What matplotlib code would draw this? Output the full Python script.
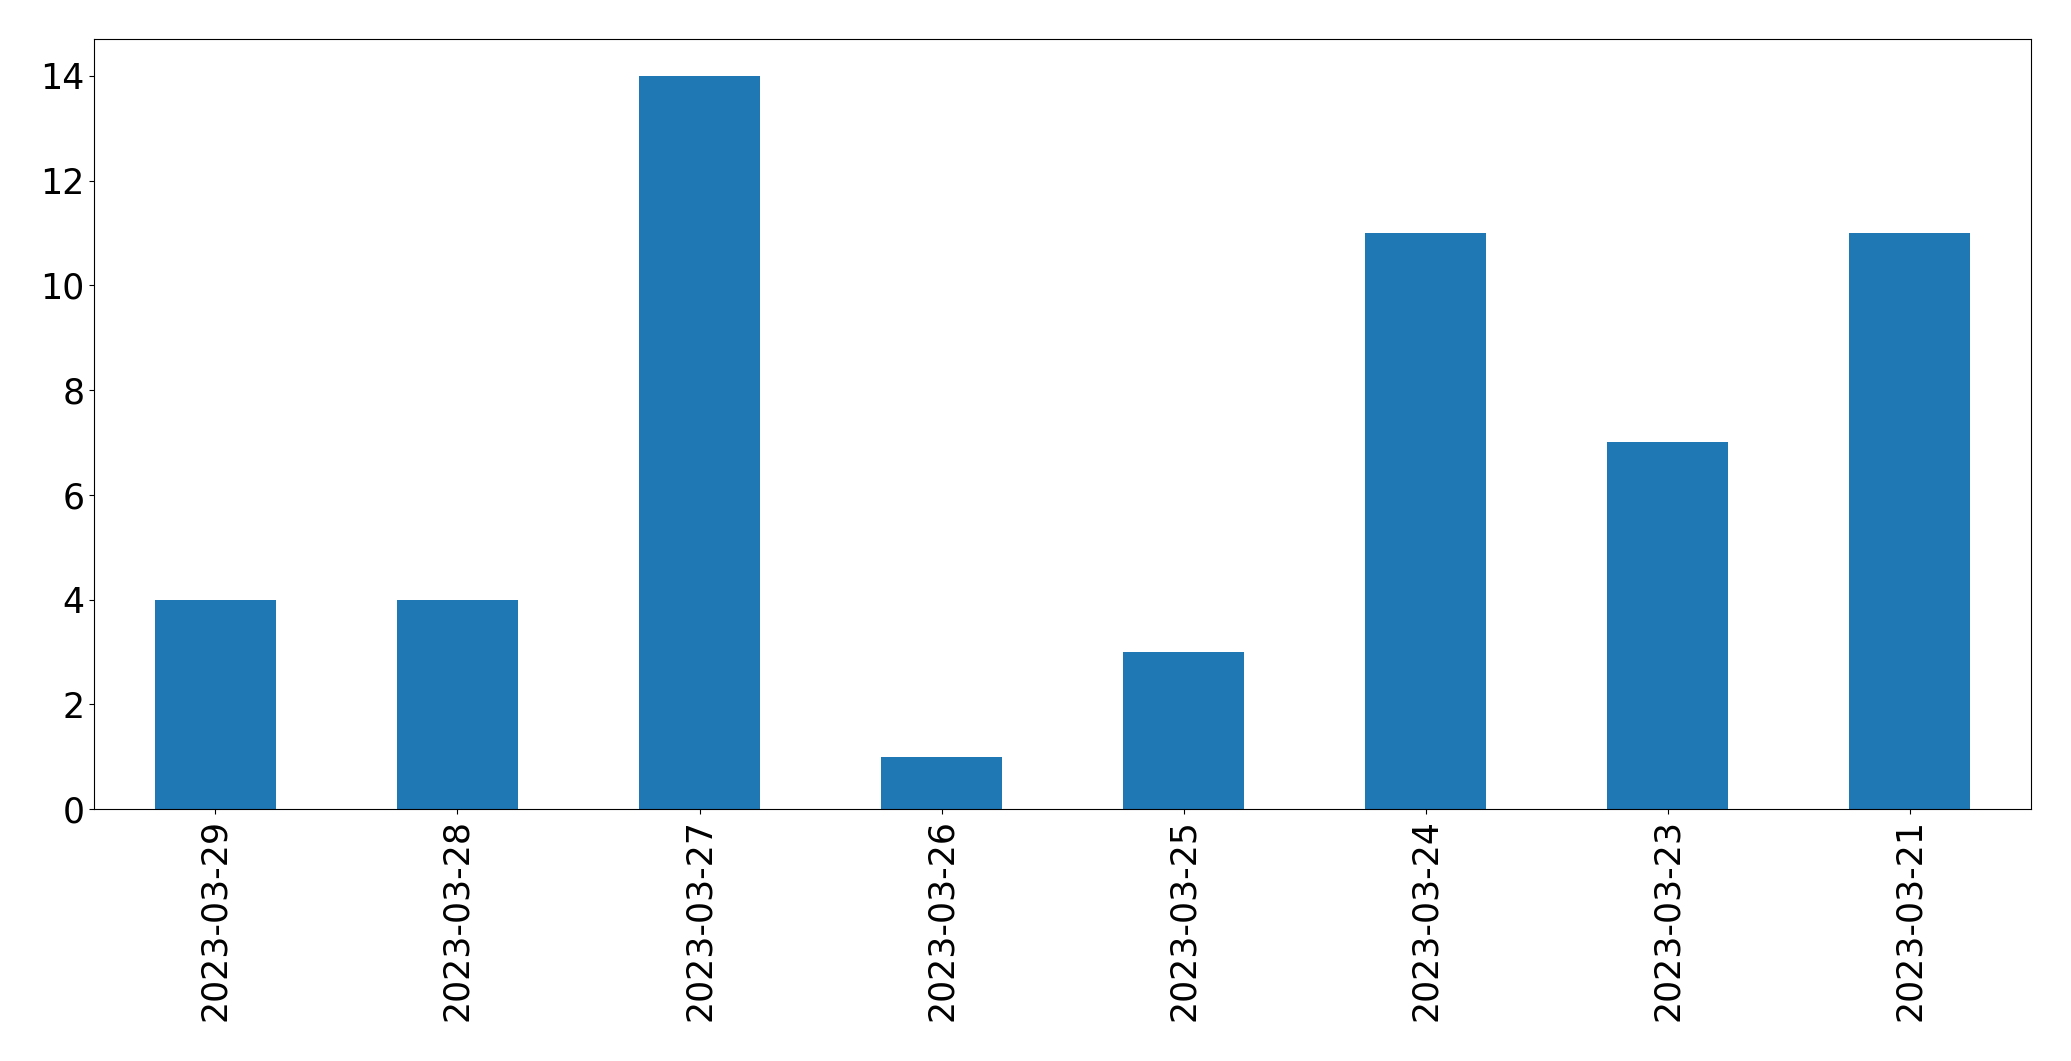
import matplotlib
matplotlib.use("Agg")
import matplotlib.pyplot as plt

dates = ["2023-03-29", "2023-03-28", "2023-03-27", "2023-03-26",
         "2023-03-25", "2023-03-24", "2023-03-23", "2023-03-21"]
counts = [4, 4, 14, 1, 3, 11, 7, 11]

fig = plt.figure(figsize=(20.71, 10.61), dpi=100)
ax = fig.add_axes([94.3 / 2071, 1 - 809 / 1061, (2031 - 94.3) / 2071, (809 - 39.3) / 1061])
x = list(range(len(dates)))
ax.bar(x, counts, width=0.5, color="#1f77b4")
ax.set_xlim(-0.5, len(dates) - 0.5)
ax.set_ylim(0, 14.7)
ax.set_xticks(x)
ax.set_xticklabels(dates, rotation=90, fontsize=25)
ax.tick_params(axis="y", labelsize=25)
fig.savefig("out.png", dpi=100)
